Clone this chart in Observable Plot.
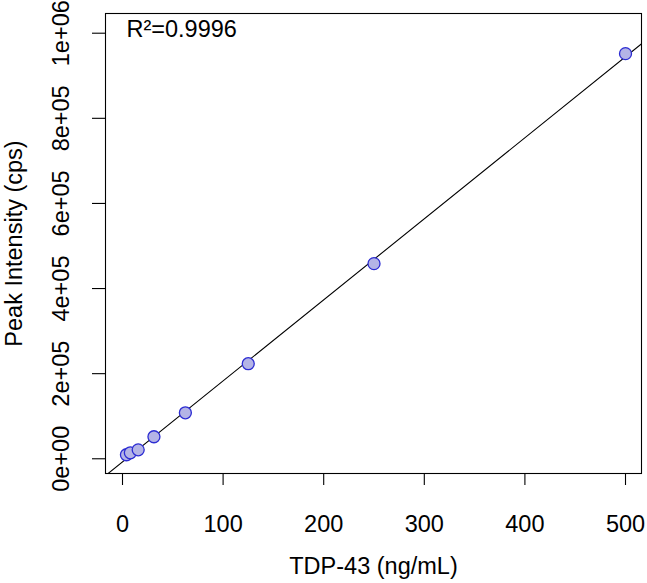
<!DOCTYPE html>
<html>
<head>
<meta charset="utf-8">
<script src="https://cdn.jsdelivr.net/npm/d3@7"></script>
<script src="https://cdn.jsdelivr.net/npm/@observablehq/plot@0.6"></script>
<style>
  html, body { margin: 0; padding: 0; background: #fff; }
</style>
</head>
<body>
<div id="chart"></div>
<script>
// Data
const concentration = [3.9, 7.8, 15.6, 31.25, 62.5, 125, 250, 500];          // TDP-43 (ng/mL)
const intensity     = [9400, 14000, 21000, 51700, 108000, 223400, 458500, 952000]; // Peak Intensity (cps)
const xTicks = [0, 100, 200, 300, 400, 500];
const yTicks = [0, 200000, 400000, 600000, 800000, 1000000];
const xDomain = [-16.9, 515.9];
const yDomain = [-34600, 1046300];
const r2Label = "R²=0.9996";
const xLabel = "TDP-43 (ng/mL)";
const yLabel = "Peak Intensity (cps)";

const points = concentration.map((c, i) => ({x: c, y: intensity[i]}));

// least-squares fit of the calibration points
const mx = d3.mean(concentration), my = d3.mean(intensity);
const slope = d3.sum(concentration, (c, i) => (c - mx) * (intensity[i] - my)) /
              d3.sum(concentration, c => (c - mx) ** 2);
const intercept = my - slope * mx;

function sciFormat(d) {
  const [m, e] = d3.format(".0e")(d).split("e");
  return m + "e" + e[0] + e.slice(1).padStart(2, "0");
}

const chart = Plot.plot({
  width: 647,
  height: 583,
  marginLeft: 105,
  marginRight: 6,
  marginTop: 13,
  marginBottom: 110,
  style: {fontSize: "23.5px", fontFamily: "'Liberation Sans', Arial, sans-serif", color: "#000", background: "#fff"},
  x: {domain: xDomain},
  y: {domain: yDomain},
  marks: [
    Plot.line(xDomain, {x: d => d, y: d => intercept + slope * d, stroke: "#000", strokeWidth: 1.1, clip: true}),
    Plot.dot(points, {x: "x", y: "y", r: 6, fill: "#b4b4e6", stroke: "#2c2cd2", strokeWidth: 1.3}),
    Plot.frame({stroke: "#000", strokeWidth: 1.1}),
    Plot.axisX(xTicks, {tickSize: 12, tickPadding: 30, strokeWidth: 1.1, label: xLabel, labelAnchor: "center", labelArrow: "none", labelOffset: 100}),
    Plot.axisY(yTicks, {tickSize: 13, tickPadding: 24, tickRotate: -90, tickFormat: sciFormat, strokeWidth: 1.1, label: yLabel, labelAnchor: "center", labelArrow: "none", labelOffset: 100}),
    Plot.text([r2Label], {text: d => d, frameAnchor: "top-left", textAnchor: "start", lineAnchor: "top", dx: 21, dy: 7, fill: "#000"})
  ]
});
document.getElementById("chart").appendChild(chart);
</script>
</body>
</html>
